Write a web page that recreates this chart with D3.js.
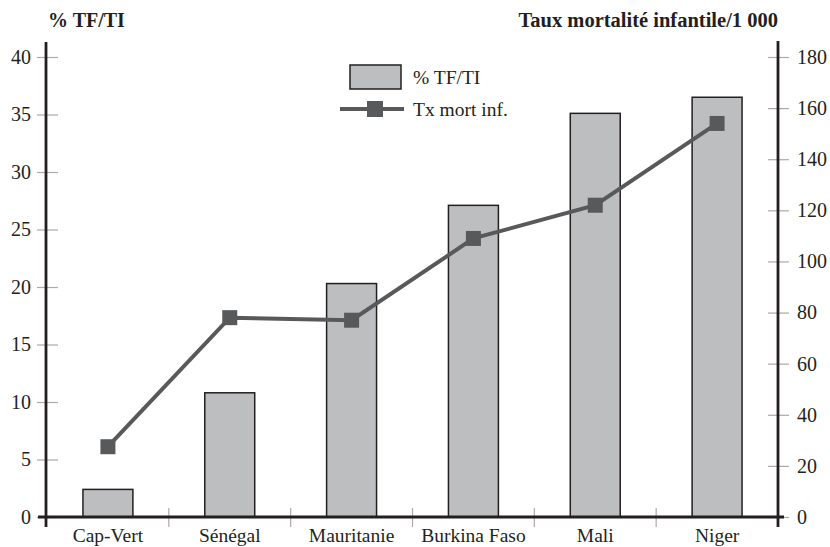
<!DOCTYPE html>
<html>
<head>
<meta charset="utf-8">
<script src="https://cdn.jsdelivr.net/npm/d3@7"></script>
<style>
  body { margin: 0; background: #fff; }
  svg text { fill: #231f20; }
</style>
</head>
<body>
<svg width="830" height="547"></svg>
<script>
var countries = ["Cap-Vert", "Sénégal", "Mauritanie", "Burkina Faso", "Mali", "Niger"];
var tfti = [2.4, 10.8, 20.3, 27.1, 35.1, 36.5];
var mortInf = [27.5, 78, 77, 109, 122, 154];
var leftTicks = [0, 5, 10, 15, 20, 25, 30, 35, 40];
var rightTicks = [0, 20, 40, 60, 80, 100, 120, 140, 160, 180];

var serif = "'Liberation Serif', 'DejaVu Serif', serif";

var svg = d3.select("svg");

var x = d3.scaleBand().domain(countries).range([47, 778]).paddingInner(0.59).paddingOuter(0.295);
var band = d3.scaleBand().domain(countries).range([47, 778]);
var yL = d3.scaleLinear().domain([0, 40]).range([517, 57]);
var yR = d3.scaleLinear().domain([0, 180]).range([517, 57]);

// bars
svg.append("g")
  .selectAll("rect")
  .data(countries)
  .enter()
  .append("rect")
  .attr("x", function (d) { return x(d); })
  .attr("width", x.bandwidth())
  .attr("y", function (d, i) { return yL(tfti[i]); })
  .attr("height", function (d, i) { return yL(0) - yL(tfti[i]); })
  .style("fill", "#bcbec0")
  .style("stroke", "#231f20")
  .style("stroke-width", 1.5);

// left axis
var gl = svg.append("g").attr("transform", "translate(46,0)")
  .call(d3.axisLeft(yL).tickValues(leftTicks).tickSize(0).tickPadding(15));
gl.attr("font-family", null).attr("font-size", null);
gl.select(".domain").remove();
gl.selectAll(".tick line").attr("x1", -9).attr("x2", 12).style("stroke", "#aaa").style("stroke-width", 1.2);
gl.selectAll(".tick text").attr("font-family", serif).attr("font-size", 20).attr("fill", "#231f20");
gl.append("line").attr("x1", 0).attr("x2", 0).attr("y1", 42).attr("y2", 527)
  .style("stroke", "#231f20").style("stroke-width", 2.8);

// right axis
var gr = svg.append("g").attr("transform", "translate(778,0)")
  .call(d3.axisRight(yR).tickValues(rightTicks).tickSize(0).tickPadding(19));
gr.attr("font-family", null).attr("font-size", null);
gr.select(".domain").remove();
gr.selectAll(".tick line").attr("x1", -10).attr("x2", 11).style("stroke", "#aaa").style("stroke-width", 1.2);
gr.selectAll(".tick text").attr("font-family", serif).attr("font-size", 20).attr("fill", "#231f20");
gr.append("line").attr("x1", 0).attr("x2", 0).attr("y1", 41).attr("y2", 527)
  .style("stroke", "#231f20").style("stroke-width", 2.8);

// x axis
var gx = svg.append("g").attr("transform", "translate(0,517)");
gx.selectAll("line.sep")
  .data(countries.slice(1))
  .enter()
  .append("line")
  .attr("class", "sep")
  .attr("x1", function (d) { return band(d); })
  .attr("x2", function (d) { return band(d); })
  .attr("y1", -9).attr("y2", 10)
  .style("stroke", "#aaa").style("stroke-width", 1.2);
gx.append("line").attr("x1", 38).attr("x2", 784).attr("y1", 0).attr("y2", 0)
  .style("stroke", "#231f20").style("stroke-width", 2.8);
gx.selectAll("text")
  .data(countries)
  .enter()
  .append("text")
  .attr("x", function (d) { return band(d) + band.bandwidth() / 2; })
  .attr("y", 25)
  .attr("text-anchor", "middle")
  .attr("font-family", serif)
  .attr("font-size", 19.5)
  .text(function (d) { return d; });

// line series
var line = d3.line()
  .x(function (d, i) { return band(countries[i]) + band.bandwidth() / 2; })
  .y(function (d) { return yR(d); });

svg.append("path")
  .datum(mortInf)
  .attr("d", line)
  .style("fill", "none")
  .style("stroke", "#58595b")
  .style("stroke-width", 4);

svg.append("g")
  .selectAll("rect")
  .data(mortInf)
  .enter()
  .append("rect")
  .attr("x", function (d, i) { return band(countries[i]) + band.bandwidth() / 2 - 7.5; })
  .attr("y", function (d) { return yR(d) - 7.5; })
  .attr("width", 15)
  .attr("height", 15)
  .style("fill", "#58595b");

// axis titles
svg.append("text").attr("x", 48).attr("y", 27)
  .attr("font-family", serif)
  .attr("font-size", 20).attr("font-weight", "bold").text("% TF/TI");
svg.append("text").attr("x", 778).attr("y", 27).attr("text-anchor", "end")
  .attr("font-family", serif)
  .attr("font-size", 20.5).attr("font-weight", "bold").text("Taux mortalité infantile/1 000");

// legend
var lg = svg.append("g").attr("font-family", serif).attr("font-size", 19.5);
lg.append("rect").attr("x", 350).attr("y", 65).attr("width", 51).attr("height", 24)
  .style("fill", "#bcbec0").style("stroke", "#231f20").style("stroke-width", 1.5);
lg.append("text").attr("x", 413).attr("y", 84).text("% TF/TI");
lg.append("line").attr("x1", 340).attr("x2", 404).attr("y1", 109).attr("y2", 109)
  .style("stroke", "#58595b").style("stroke-width", 4);
lg.append("rect").attr("x", 367).attr("y", 101).attr("width", 16).attr("height", 16)
  .style("fill", "#58595b");
lg.append("text").attr("x", 413).attr("y", 116).text("Tx mort inf.");
</script>
</body>
</html>
